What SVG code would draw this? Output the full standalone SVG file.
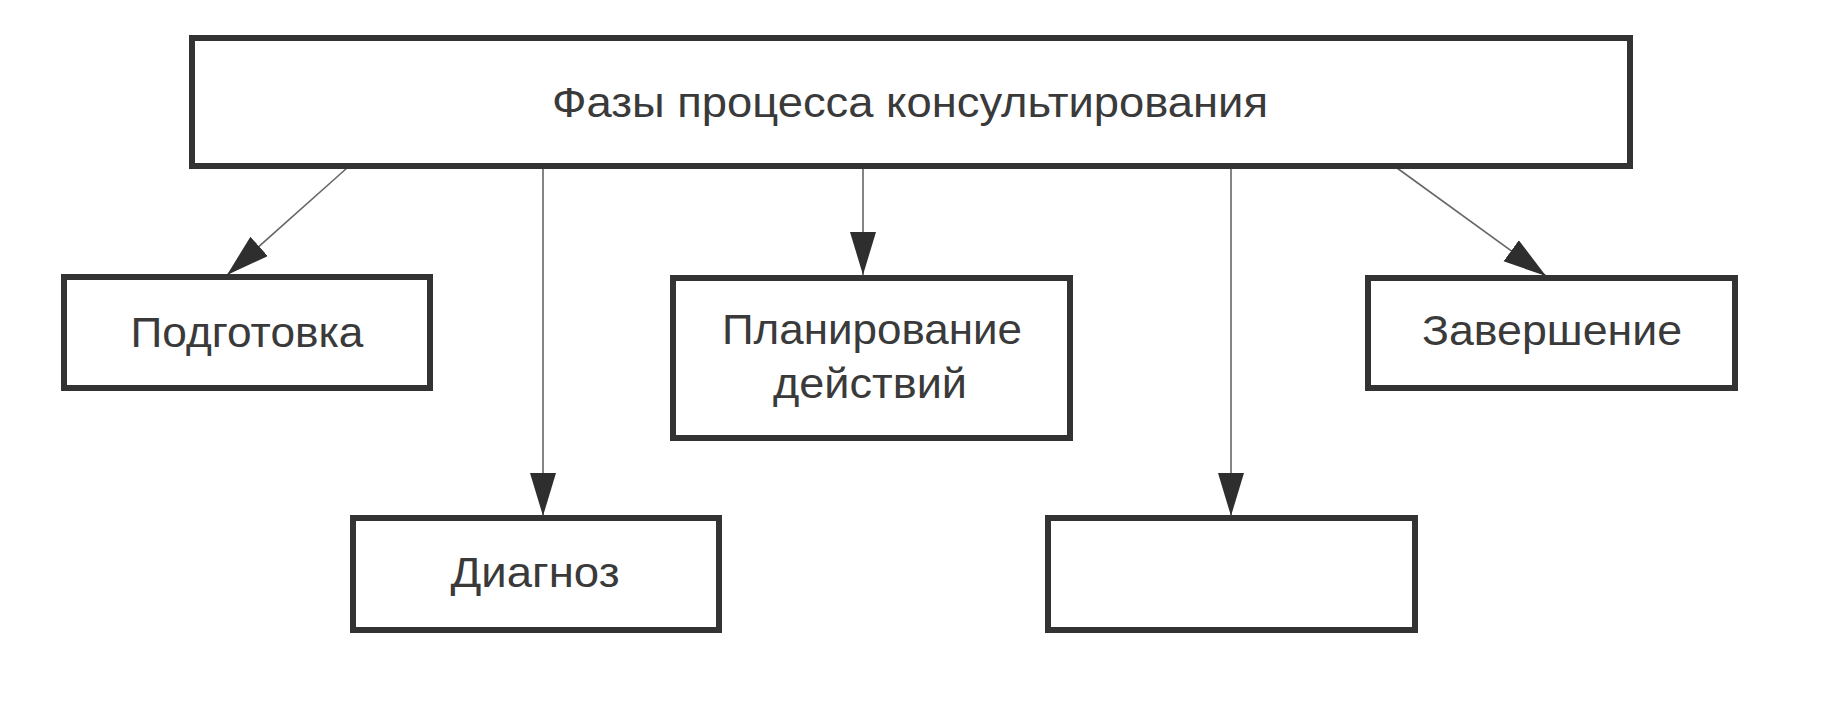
<svg xmlns="http://www.w3.org/2000/svg" width="1842" height="712" viewBox="0 0 1842 712">
  <style>
    .box { fill: #ffffff; stroke: #333333; stroke-width: 6; }
    .lbl { font-family: "Liberation Sans", Arial, sans-serif; font-size: 42px; fill: #3a3a3a; text-anchor: middle; }
    .conn { stroke: #666666; stroke-width: 1.6; fill: none; marker-end: url(#arr); }
  </style>
  <defs>
    <marker id="arr" markerUnits="userSpaceOnUse" markerWidth="46" markerHeight="30" refX="43" refY="13" orient="auto">
      <path d="M0,0 L43,13 L0,26 Z" fill="#2e2e2e"/>
    </marker>
  </defs>
  <rect width="1842" height="712" fill="#ffffff"/>

  <g id="connectors">
    <line class="conn" x1="347" y1="168" x2="227" y2="275"/>
    <line class="conn" x1="543" y1="168" x2="543" y2="516"/>
    <line class="conn" x1="863" y1="168" x2="863" y2="275"/>
    <line class="conn" x1="1231" y1="168" x2="1231" y2="516"/>
    <line class="conn" x1="1397" y1="168" x2="1546" y2="276"/>
  </g>

  <g id="node-root">
    <rect class="box" x="192" y="38" width="1438" height="128"/>
    <text class="lbl" x="910" y="117" textLength="716" lengthAdjust="spacingAndGlyphs">Фазы процесса консультирования</text>
  </g>

  <g id="node-podgotovka">
    <rect class="box" x="64" y="277" width="366" height="111"/>
    <text class="lbl" x="247" y="347" textLength="233" lengthAdjust="spacingAndGlyphs">Подготовка</text>
  </g>

  <g id="node-planirovanie">
    <rect class="box" x="673" y="278" width="397" height="160"/>
    <text class="lbl" x="872" y="344" textLength="300" lengthAdjust="spacingAndGlyphs">Планирование</text>
    <text class="lbl" x="870" y="398" textLength="194" lengthAdjust="spacingAndGlyphs">действий</text>
  </g>

  <g id="node-zavershenie">
    <rect class="box" x="1368" y="278" width="367" height="110"/>
    <text class="lbl" x="1552" y="345" textLength="260" lengthAdjust="spacingAndGlyphs">Завершение</text>
  </g>

  <g id="node-diagnoz">
    <rect class="box" x="353" y="518" width="366" height="112"/>
    <text class="lbl" x="535" y="587" textLength="169" lengthAdjust="spacingAndGlyphs">Диагноз</text>
  </g>

  <g id="node-empty">
    <rect class="box" x="1048" y="518" width="367" height="112"/>
  </g>
</svg>
